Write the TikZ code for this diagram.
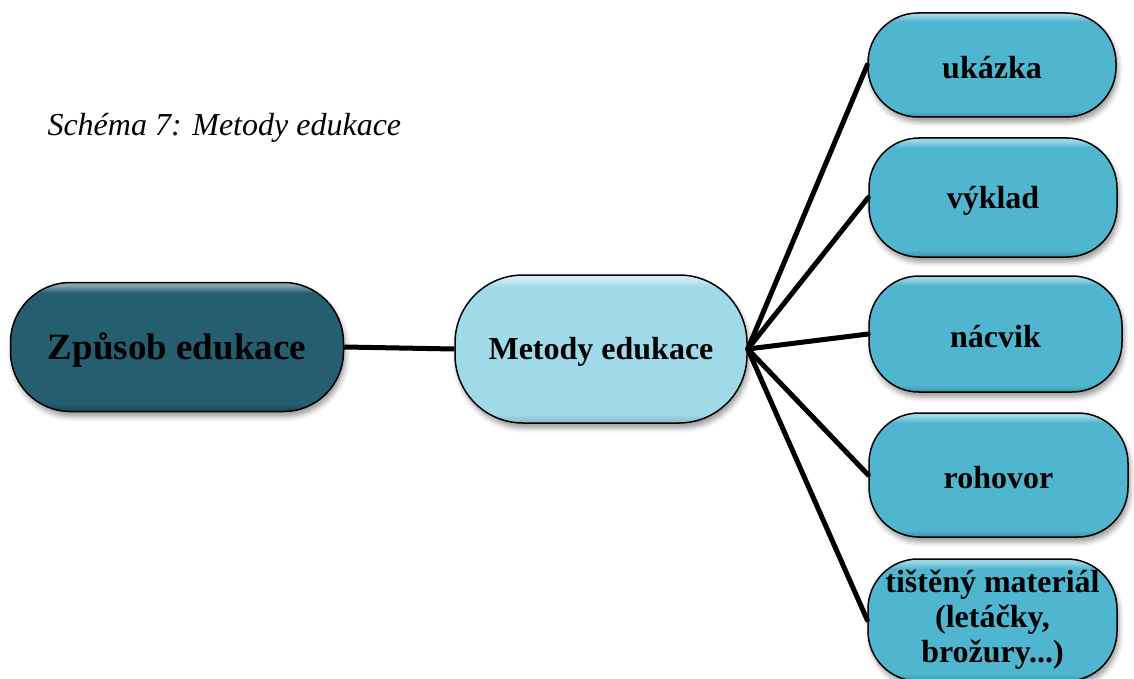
\documentclass[tikz,border=0pt]{standalone}
\usepackage{fontspec}
\setmainfont{Liberation Serif}
\usetikzlibrary{shadows.blur}
\definecolor{darkbase}{RGB}{37,94,110}
\definecolor{midbase}{RGB}{160,218,233}
\definecolor{rightbase}{RGB}{80,182,208}
\colorlet{darklight}{darkbase!55!white}
\colorlet{darkdark}{darkbase!75!black}
\colorlet{midlight}{midbase!50!white}
\colorlet{middark}{midbase!85!black}
\colorlet{rightlight}{rightbase!55!white}
\colorlet{rightdark}{rightbase!80!black}
\pgfdeclareverticalshading{bevdark}{100bp}{color(0bp)=(darkdark); color(25bp)=(darkdark); color(28bp)=(darkbase); color(71bp)=(darkbase); color(74bp)=(darklight); color(75bp)=(darklight); color(100bp)=(darklight)}
\pgfdeclareverticalshading{bevmid}{100bp}{color(0bp)=(middark); color(25bp)=(middark); color(28bp)=(midbase); color(71bp)=(midbase); color(74bp)=(midlight); color(75bp)=(midlight); color(100bp)=(midlight)}
\pgfdeclareverticalshading{bevright}{100bp}{color(0bp)=(rightdark); color(25bp)=(rightdark); color(28bp)=(rightbase); color(71bp)=(rightbase); color(74bp)=(rightlight); color(75bp)=(rightlight); color(100bp)=(rightlight)}
\newcommand{\lowtext}[1]{\raisebox{-3pt}[\height][\depth]{#1}}
\tikzset{
  pill/.style={draw=black, line width=1.5pt, align=center, inner sep=0pt,
    font=\bfseries\fontsize{32}{35}\selectfont,
    blur shadow={shadow xshift=2pt, shadow yshift=-5pt, shadow blur radius=5pt, shadow opacity=40}},
  leftbox/.style={pill, shading=bevdark, rounded corners=60pt,
    font=\bfseries\fontsize{37}{40}\selectfont},
  midbox/.style={pill, shading=bevmid, rounded corners=68pt},
  rightbox/.style={pill, shading=bevright, rounded corners=50pt},
  conn/.style={line width=5pt, black},
}
\begin{document}
\begin{tikzpicture}[x=1pt, y=-1pt]
\useasboundingbox (0,0) rectangle (1134,679);
\node[anchor=west, font=\itshape\fontsize{32}{35}\selectfont] (cap) at (44,128) {Schéma 7: Metody edukace};
\node[leftbox, minimum width=333pt, minimum height=129pt] (src) at (177,347) {\lowtext{Způsob edukace}};
\node[midbox, minimum width=292pt, minimum height=148pt] (mid) at (601,349) {\lowtext{Metody edukace}};
\node[rightbox, minimum width=248pt, minimum height=104pt] (r1) at (992,65) {\lowtext{ukázka}};
\node[rightbox, minimum width=248pt, minimum height=119pt] (r2) at (993,197.5) {\lowtext{výklad}};
\node[rightbox, minimum width=253pt, minimum height=116pt] (r3) at (995.5,334) {\lowtext{nácvik}};
\node[rightbox, minimum width=259pt, minimum height=124pt] (r4) at (998.5,475) {\lowtext{rohovor}};
\node[rightbox, minimum width=249pt, minimum height=122pt] (r5) at (992.5,620) {tištěný materiál\\(letáčky,\\brožury...)};
\draw[conn] (src.east) -- (mid.west);
\foreach \r in {r1,r2,r3,r4,r5} {\draw[conn, line cap=round] (mid.east) -- (\r.west);}
\end{tikzpicture}
\end{document}
